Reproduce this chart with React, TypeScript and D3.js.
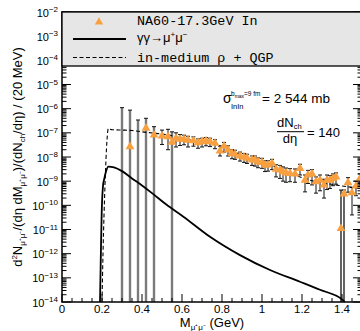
import React, { useEffect, useRef } from "react";
import * as d3 from "d3";

// NA60 In-In 17.3 GeV excess points (null = only the bar is visible)
const na60Mass = [0.30, 0.34, 0.38, 0.42, 0.46, 0.50, 0.53, 0.55, 0.57, 0.59, 0.61, 0.63, 0.657, 0.68, 0.70, 0.72, 0.74, 0.765, 0.79, 0.81, 0.83, 0.85, 0.865, 0.89, 0.91, 0.925, 0.95, 0.965, 0.98, 1.00, 1.015, 1.03, 1.05, 1.07, 1.09, 1.105, 1.12, 1.14, 1.165, 1.19, 1.215, 1.23, 1.25, 1.27, 1.29, 1.31, 1.325, 1.34, 1.355, 1.37, 1.395, 1.41, 1.43, 1.45, 1.47, 1.49];
const na60Yield = [null, 2.7e-8, null, 1.55e-7, 8.1e-8, 7.4e-8, 6.9e-8, 4.1e-8, 5.9e-8, 5.4e-8, 5.4e-8, 5.0e-8, 4.7e-8, 3.9e-8, 4.3e-8, 4.6e-8, 4.3e-8, 3.7e-8, 1.8e-8, 2.8e-8, 1.95e-8, 1.4e-8, 1.3e-8, 1.1e-8, 9.8e-9, 8.9e-9, 7.6e-9, 7.6e-9, 6.3e-9, 6.0e-9, 4.7e-9, 4.7e-9, 5.5e-9, 3.1e-9, 2.9e-9, 2.45e-9, 2.2e-9, 2.1e-9, 2.0e-9, 3.4e-9, 1.1e-9, 1.8e-9, 2.0e-9, 9.5e-10, 1.1e-9, 6.9e-10, 1.1e-9, 1.1e-9, 1.3e-9, 1.5e-9, 1.1e-11, 2.95e-10, 8.7e-10, 3.3e-10, 6.3e-10, 1.3e-9];
const na60Hi = [1.1e-6, 8.7e-7, 3.4e-7, 4.0e-7, 1.8e-7, 1.3e-7, 1.4e-7, 1.1e-7, 1.0e-7, 8.5e-8, 8.0e-8, 7.2e-8, 6.8e-8, 5.6e-8, 6.0e-8, 6.4e-8, 6.0e-8, 5.2e-8, 2.8e-8, 4.0e-8, 2.9e-8, 2.0e-8, 1.9e-8, 1.6e-8, 1.4e-8, 1.3e-8, 1.1e-8, 1.1e-8, 9.2e-9, 8.8e-9, 7.0e-9, 7.0e-9, 8.0e-9, 4.8e-9, 4.5e-9, 3.9e-9, 3.5e-9, 3.3e-9, 3.2e-9, 5.0e-9, 1.8e-9, 2.8e-9, 3.0e-9, 1.5e-9, 1.8e-9, 1.2e-9, 1.8e-9, 1.7e-9, 2.0e-9, 2.2e-9, 4.3e-10, 4.3e-10, 1.4e-9, 5.5e-10, 1.0e-9, 2.0e-9];
// 0 = bar goes down through the axis
const na60Lo = [0, 0, 0, 0, 0, 3.3e-8, 2.0e-8, 0, 2.6e-8, 3.0e-8, 3.2e-8, 2.6e-8, 2.8e-8, 2.3e-8, 2.6e-8, 2.9e-8, 2.7e-8, 2.2e-8, 1.1e-8, 1.6e-8, 1.1e-8, 8.5e-9, 8.0e-9, 6.8e-9, 6.0e-9, 5.4e-9, 4.5e-9, 4.2e-9, 3.6e-9, 3.4e-9, 2.5e-9, 2.6e-9, 3.0e-9, 1.5e-9, 1.3e-9, 1.0e-9, 9.0e-10, 9.5e-10, 9.0e-10, 1.8e-9, 3.6e-10, 8.0e-10, 7.0e-10, 3.2e-10, 4.0e-10, 2.0e-10, 4.5e-10, 5.0e-10, 6.5e-10, 7.5e-10, 0, 0, 3.5e-10, 4.0e-11, 2.5e-10, 6.0e-10];

// gamma gamma -> mu+ mu-
const ggMass = [0.19, 0.1935, 0.1985, 0.205, 0.2115, 0.22, 0.2315, 0.26, 0.30, 0.35, 0.40, 0.45, 0.52, 0.607, 0.74, 0.89, 1.04, 1.19, 1.29, 1.405, 1.42];
const ggYield = [1e-14, 4e-13, 5e-11, 6.3e-10, 1.26e-9, 2.5e-9, 4.0e-9, 3.7e-9, 2.6e-9, 1.3e-9, 6.6e-10, 3.2e-10, 1.1e-10, 3.4e-11, 5.0e-12, 8.7e-13, 2.1e-13, 6.9e-14, 3.2e-14, 1.2e-14, 8e-15];

// in-medium rho + QGP
const rhoMass = [0.20, 0.205, 0.215, 0.225, 0.2315, 0.25, 0.30, 0.35, 0.40, 0.47, 0.55, 0.62, 0.70, 0.76, 0.82, 0.88, 0.94, 1.00, 1.06, 1.12, 1.18, 1.24, 1.30, 1.36, 1.42, 1.50];
const rhoYield = [1e-14, 1e-12, 6.9e-10, 5e-8, 1.5e-7, 1.35e-7, 1.3e-7, 1.25e-7, 1.1e-7, 9.5e-8, 7.6e-8, 5.5e-8, 4.0e-8, 3.4e-8, 2.4e-8, 1.4e-8, 8.5e-9, 6.0e-9, 4.0e-9, 2.5e-9, 1.6e-9, 1.1e-9, 8.5e-10, 7.2e-10, 6.0e-10, 5.0e-10];

const xTicks = [0, 0.2, 0.4, 0.6, 0.8, 1, 1.2, 1.4];
const yExponents = [-14, -13, -12, -11, -10, -9, -8, -7, -6, -5, -4, -3, -2];

const SANS = "'Liberation Sans', Arial, Helvetica, sans-serif";
const MONO = "'Courier New', 'Liberation Mono', monospace";
const ORANGE = "#f8a040";

const App = () => {
  const gRef = useRef<SVGGElement>(null);

  const left = 62, right = 362, top = 12, bottom = 302;
  const x = d3.scaleLinear().domain([0, 1.5]).range([left, right]);
  const y = d3.scaleLog().domain([1e-14, 1e-2]).range([bottom, top]);

  useEffect(() => {
    const g = d3.select(gRef.current);
    g.selectAll("*").remove();

    const plot = g.append("g").attr("clip-path", "url(#plotClip)");

    const pts = na60Mass.map((m, i) => ({
      m, v: na60Yield[i], hi: na60Hi[i], lo: na60Lo[i],
    }));

    // bars that run to the axis
    const open = pts.filter((d) => d.lo === 0);
    plot.selectAll(".openbar").data(open).join("line")
      .attr("x1", (d) => x(d.m)).attr("x2", (d) => x(d.m))
      .attr("y1", (d) => y(d.hi)).attr("y2", bottom + 2)
      .attr("stroke", (d) => (d.m < 1 ? "#7a7a7a" : "#111"))
      .attr("stroke-width", (d) => (d.m < 1 ? 2.4 : 1.3));

    const closed = pts.filter((d) => d.lo > 0);
    plot.selectAll(".bar").data(closed).join("line")
      .attr("x1", (d) => x(d.m)).attr("x2", (d) => x(d.m))
      .attr("y1", (d) => y(d.hi)).attr("y2", (d) => y(d.lo))
      .attr("stroke", "#111").attr("stroke-width", 1);

    // caps
    const caps: { m: number; v: number }[] = [];
    pts.forEach((d) => {
      caps.push({ m: d.m, v: d.hi });
      if (d.lo > 0) caps.push({ m: d.m, v: d.lo });
    });
    plot.selectAll(".cap").data(caps).join("line")
      .attr("x1", (d) => x(d.m) - 2).attr("x2", (d) => x(d.m) + 2)
      .attr("y1", (d) => y(d.v)).attr("y2", (d) => y(d.v))
      .attr("stroke", "#111").attr("stroke-width", 1);

    const line = d3.line<number>()
      .curve(d3.curveMonotoneX);

    plot.append("path")
      .attr("d", line.x((_, i) => x(rhoMass[i])).y((d) => y(d))(rhoYield))
      .attr("fill", "none").attr("stroke", "#000")
      .attr("stroke-width", 1.1).attr("stroke-dasharray", "4,2.5");

    plot.append("path")
      .attr("d", line.x((_, i) => x(ggMass[i])).y((d) => y(d))(ggYield))
      .attr("fill", "none").attr("stroke", "#000").attr("stroke-width", 1.8);

    const tri = d3.symbol().type(d3.symbolTriangle).size(34);
    plot.selectAll(".pt").data(pts.filter((d) => d.v !== null)).join("path")
      .attr("d", tri)
      .attr("transform", (d) => `translate(${x(d.m)},${y(d.v as number)})`)
      .attr("fill", ORANGE);

    // axes ticks (inside)
    const minor: number[] = [];
    yExponents.slice(0, -1).forEach((e) => {
      for (let k = 2; k <= 9; k++) minor.push(k * Math.pow(10, e));
    });
    const major = yExponents.map((e) => Math.pow(10, e));
    const ax = g.append("g").attr("stroke", "#000").attr("stroke-width", 1);
    [left, right].forEach((x0) => {
      const dir = x0 === left ? 1 : -1;
      ax.selectAll(null).data(major).join("line")
        .attr("x1", x0).attr("x2", x0 + dir * 9)
        .attr("y1", (d) => y(d)).attr("y2", (d) => y(d));
      ax.selectAll(null).data(minor).join("line")
        .attr("x1", x0).attr("x2", x0 + dir * 4.5)
        .attr("y1", (d) => y(d)).attr("y2", (d) => y(d));
    });
    const xMinor = d3.range(0, 31).map((i) => i * 0.05);
    ax.selectAll(null).data(xMinor).join("line")
      .attr("x1", (d) => x(d)).attr("x2", (d) => x(d))
      .attr("y1", bottom).attr("y2", (d, i) => (i % 4 === 0 ? bottom - 8 : bottom - 4));

    g.append("rect")
      .attr("x", left).attr("y", top)
      .attr("width", right - left).attr("height", bottom - top)
      .attr("fill", "none").attr("stroke", "#000").attr("stroke-width", 1.5);

    // y tick labels
    const yl = g.selectAll(".ylab").data(yExponents).join("text")
      .attr("x", 58).attr("y", (d) => y(Math.pow(10, d)) + 4.5)
      .attr("text-anchor", "end")
      .style("font-family", SANS).style("font-size", "11px");
    yl.append("tspan").text("10");
    yl.append("tspan").attr("dy", -4.5).style("font-size", "8px")
      .text((d) => "\u2212" + Math.abs(d));

    g.selectAll(".xlab").data(xTicks).join("text")
      .attr("x", (d) => x(d)).attr("y", 313)
      .attr("text-anchor", "middle")
      .style("font-family", SANS).style("font-size", "11.5px")
      .text((d) => String(d));
  }, []);

  const legendTri = d3.symbol().type(d3.symbolTriangle).size(30)() as string;

  return (
    <svg width={360} height={331} style={{ display: "block", position: "absolute", left: 0, top: 0 }}>
      <defs>
        <clipPath id="plotClip">
          <rect x={left} y={top} width={right - left} height={bottom - top} />
        </clipPath>
      </defs>
      <g ref={gRef} />

      {/* legend */}
      <rect x={left} y={top} width={300} height={54} fill="#e6e6e6" stroke="#000" strokeWidth={1.3} />
      <path d={legendTri} transform="translate(99,22)" fill={ORANGE} />
      <line x1={73} x2={126} y1={39} y2={39} stroke="#000" strokeWidth={1.8} />
      <line x1={73} x2={126} y1={57.5} y2={57.5} stroke="#000" strokeWidth={1.1} strokeDasharray="4,2.5" />
      <text x={137} y={25} style={{ fontFamily: MONO, fontSize: "13.4px" }}>NA60-17.3GeV In</text>
      <text x={137} y={42} style={{ fontFamily: SANS, fontSize: "13px" }}>
        γγ→μ<tspan dy={-5} style={{ fontSize: "8px" }}>+</tspan>
        <tspan dy={5}>μ</tspan>
        <tspan dy={-5} style={{ fontSize: "8px" }}>−</tspan>
      </text>
      <text x={137} y={62} style={{ fontFamily: MONO, fontSize: "13.4px" }}>in-medium ρ + QGP</text>

      {/* cross-section annotation */}
      <g style={{ fontFamily: SANS }}>
        <text x={223} y={103} style={{ fontSize: "14px" }}>σ</text>
        <text x={231} y={96} style={{ fontSize: "6.5px" }}>
          b<tspan dy={1.5} style={{ fontSize: "5px" }}>max</tspan>
          <tspan dy={-1.5}>=9 fm</tspan>
        </text>
        <text x={231} y={109} style={{ fontSize: "7.5px" }}>InIn</text>
        <text x={262} y={103} style={{ fontSize: "13.5px" }}>= 2 544 mb</text>

        <text x={277} y={127} style={{ fontSize: "13px" }}>
          dN<tspan dy={2} style={{ fontSize: "7.5px" }}>ch</tspan>
        </text>
        <line x1={277} x2={304} y1={131.7} y2={131.7} stroke="#000" strokeWidth={1} />
        <text x={290} y={143} textAnchor="middle" style={{ fontSize: "13px" }}>dη</text>
        <text x={307} y={136.5} style={{ fontSize: "13px" }}>= 140</text>
      </g>

      {/* axis titles */}
      <text x={212} y={327} textAnchor="middle" style={{ fontFamily: SANS, fontSize: "13px" }}>
        M<tspan dy={3} style={{ fontSize: "8px" }}>μ⁺μ⁻</tspan>
        <tspan dy={-3}> (GeV)</tspan>
      </text>
      <text transform="translate(22,157) rotate(-90)" textAnchor="middle" style={{ fontFamily: SANS, fontSize: "13px" }}>
        d<tspan dy={-5} style={{ fontSize: "8px" }}>2</tspan>
        <tspan dy={5}>N</tspan>
        <tspan dy={3} style={{ fontSize: "8px" }}>μ⁺μ⁻</tspan>
        <tspan dy={-3}>/(dη dM</tspan>
        <tspan dy={3} style={{ fontSize: "8px" }}>μ⁺μ⁻</tspan>
        <tspan dy={-3}>)/(dN</tspan>
        <tspan dy={3} style={{ fontSize: "8px" }}>ch</tspan>
        <tspan dy={-3}>/dη) / (20 MeV)</tspan>
      </text>
    </svg>
  );
};

export default App;
